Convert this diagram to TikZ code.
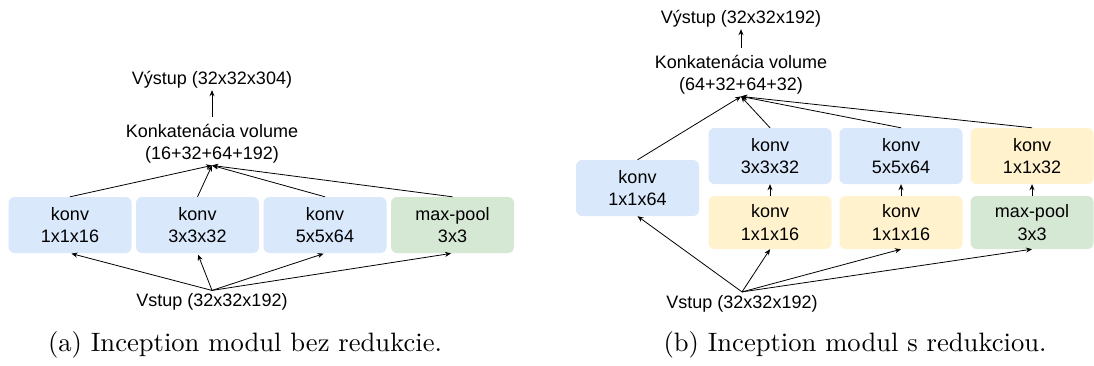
\documentclass[tikz,border=0pt]{standalone}
\usepackage{fontspec}
\newfontfamily\diagfont{Liberation Sans}
\newfontfamily\captfont{lmroman10-regular}[Extension=.otf]
\usetikzlibrary{arrows.meta}
\definecolor{convblue}{HTML}{DAE8FC}
\definecolor{reduceyellow}{HTML}{FFF2CC}
\definecolor{poolgreen}{HTML}{D5E8D4}
\begin{document}
\begin{tikzpicture}[x=1pt,y=-1pt,
  lbl/.style={font=\diagfont\fontsize{18}{22.5}\selectfont, align=center, inner sep=0pt, text=black},
  layerbox/.style={lbl, rounded corners=6pt, minimum width=123pt, minimum height=56pt},
  convbox/.style={layerbox, fill=convblue},
  redbox/.style={layerbox, fill=reduceyellow},
  poolbox/.style={layerbox, fill=poolgreen},
  arr/.style={-{Stealth[length=6pt,width=5pt]}, line width=0.8pt},
  capt/.style={font=\captfont\fontsize{26.6}{30}\selectfont, inner sep=0pt}
]
\useasboundingbox (0,0) rectangle (1094,365);

% ---------- (a) naive inception module ----------
\node[lbl] (aout) at (212,80) {Výstup (32x32x304)};
\node[lbl] (acat) at (212,143.5) {Konkatenácia volume\\(16+32+64+192)};
\node[convbox] (a1) at (70,225)  {konv\\1x1x16};
\node[convbox] (a2) at (197.5,225) {konv\\3x3x32};
\node[convbox] (a3) at (325,225) {konv\\5x5x64};
\node[poolbox] (a4) at (452.5,225) {max-pool\\3x3};
\node[lbl] (ain) at (212,301.5) {Vstup (32x32x192)};

\coordinate (ainp) at ([yshift=2.5pt]ain.north);
\coordinate (acatp) at ([yshift=-2pt]acat.south);

\draw[arr, shorten <=7pt, shorten >=1.5pt] (acat.north) -- (aout.south);
\foreach \b in {a1,a2,a3,a4} {
  \draw[arr] (\b.north) -- (acatp);
  \draw[arr, shorten >=1.5pt] (ainp) -- (\b.south);
}

% ---------- (b) inception module with reduction ----------
\node[lbl] (bout) at (741,19) {Výstup (32x32x192)};
\node[lbl] (bcat) at (741,74.5) {Konkatenácia volume\\(64+32+64+32)};
\node[convbox] (b1) at (637.5,188) {konv\\1x1x64};
\node[convbox] (b2) at (770,156) {konv\\3x3x32};
\node[convbox] (b3) at (901,156) {konv\\5x5x64};
\node[redbox]  (b4) at (1032,156) {konv\\1x1x32};
\node[redbox, minimum height=53pt]  (c2) at (770,222.5) {konv\\1x1x16};
\node[redbox, minimum height=53pt]  (c3) at (901,222.5) {konv\\1x1x16};
\node[poolbox, minimum height=53pt] (c4) at (1032,222.5) {max-pool\\3x3};
\node[lbl] (bin) at (742,304) {Vstup (32x32x192)};

\coordinate (binp) at ([yshift=3.5pt]bin.north);
\coordinate (bcatp) at ([yshift=-2pt]bcat.south);

\draw[arr, shorten <=7pt, shorten >=1.5pt] (bcat.north) -- (bout.south);
\foreach \b in {b1,b2,b3,b4} {
  \draw[arr] (\b.north) -- (bcatp);
}
\foreach \b in {b1,c2,c3,c4} {
  \draw[arr] (binp) -- (\b.south);
}
\draw[arr] (c2.north) -- (b2.south);
\draw[arr] (c3.north) -- (b3.south);
\draw[arr] (c4.north) -- (b4.south);

% ---------- captions ----------
\node[capt] (capa) at (245,345) {(a) Inception modul bez redukcie.};
\node[capt] (capb) at (855,345) {(b) Inception modul s redukciou.};
\end{tikzpicture}
\end{document}
